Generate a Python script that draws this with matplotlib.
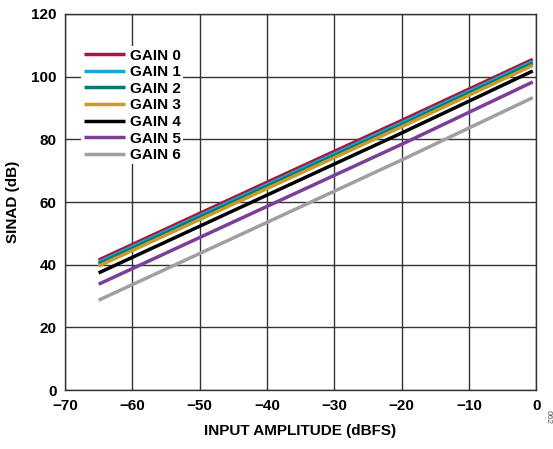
import matplotlib.pyplot as plt

plt.rcParams['font.family'] = ['Liberation Sans', 'DejaVu Sans']
plt.rcParams['font.weight'] = 'bold'

x = [-65, -40, -20, -0.5]

gain0 = [41.5, 66.3, 86.0, 105.5]
gain1 = [40.8, 65.5, 85.2, 104.8]
gain2 = [40.3, 65.0, 84.6, 104.3]
gain3 = [39.6, 64.3, 84.0, 103.6]
gain4 = [37.4, 62.2, 82.0, 101.8]
gain5 = [33.8, 58.6, 78.4, 98.3]
gain6 = [28.7, 53.5, 73.4, 93.3]

labels = ['GAIN 0', 'GAIN 1', 'GAIN 2', 'GAIN 3', 'GAIN 4', 'GAIN 5', 'GAIN 6']
colors = ['#A6193F', '#1BA6DB', '#007A73', '#C89B2A', '#000000', '#7B3F98', '#A0A0A0']

fig = plt.figure(figsize=(5.53, 4.49), dpi=100)
ax = fig.add_axes([0.1175, 0.131, 0.852, 0.838])

for y, lab, c in zip([gain0, gain1, gain2, gain3, gain4, gain5, gain6], labels, colors):
    ax.plot(x, y, color=c, lw=2.5, label=lab, solid_capstyle='butt')

ax.set_xlim(-70, 0)
ax.set_ylim(0, 120)
ax.set_xticks(range(-70, 1, 10))
ax.set_yticks(range(0, 121, 20))
ax.set_xticklabels(['\u221270', '\u221260', '\u221250', '\u221240', '\u221230', '\u221220', '\u221210', '0'])
ax.grid(True, color='#333333', lw=1)
ax.tick_params(length=0, labelsize=11, pad=6)
for s in ax.spines.values():
    s.set_color('#333333')
    s.set_linewidth(1)

ax.set_xlabel('INPUT AMPLITUDE (dBFS)', fontsize=11, fontweight='bold', labelpad=8)
ax.set_ylabel('SINAD (dB)', fontsize=11, fontweight='bold', labelpad=8)

leg = ax.legend(loc='upper left', bbox_to_anchor=(0.035, 0.914), frameon=True, fontsize=11,
                handlelength=2.7, handletextpad=0.3, labelspacing=0.17, borderpad=0.15,
                borderaxespad=0)
leg.get_frame().set_edgecolor('none')
leg.get_frame().set_facecolor('white')
leg.get_frame().set_alpha(1)
for t in leg.get_texts():
    t.set_fontweight('bold')

fig.text(0.985, 0.06, '062', rotation=270, fontsize=6, color='#555555', fontweight='normal')

fig.savefig('out.png', dpi=100)
